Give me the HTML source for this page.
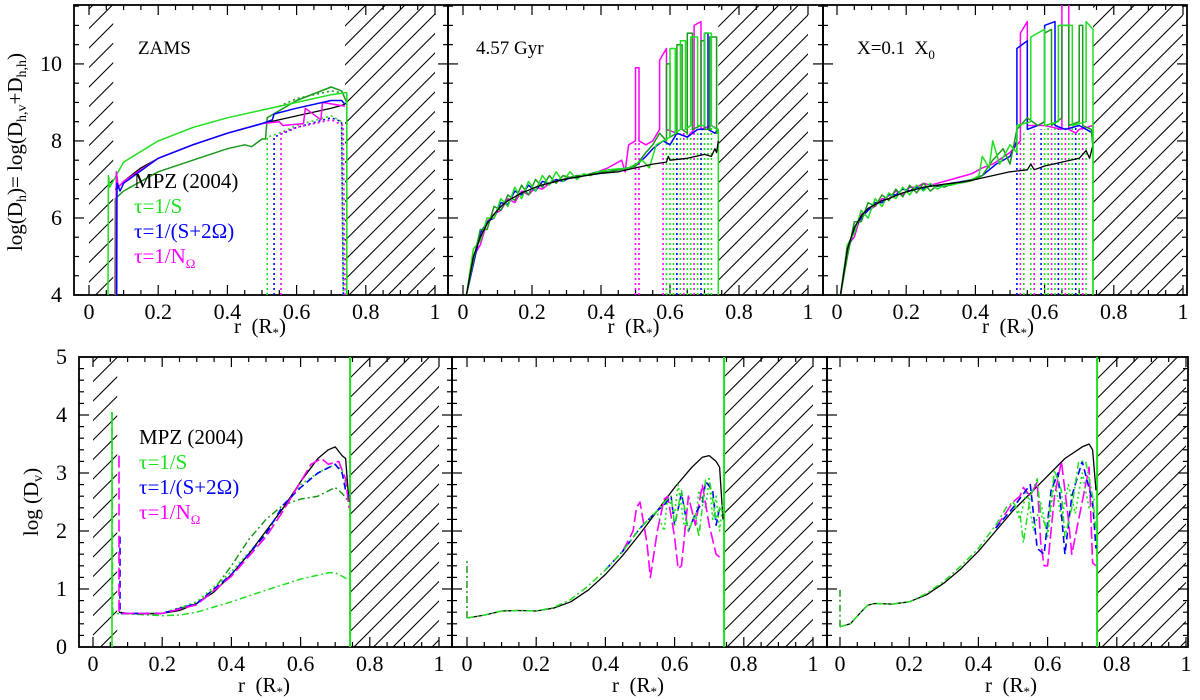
<!DOCTYPE html>
<html><head><meta charset="utf-8"><style>
html,body{margin:0;padding:0;background:#fff;}
svg{display:block;font-family:"Liberation Serif",serif;}
</style></head><body>
<svg id="fig" width="1200" height="700" viewBox="0 0 1200 700" xmlns="http://www.w3.org/2000/svg"></svg>
<script>
// ---------- DATA ----------
const noiseX = [0.01,0.03,0.05,0.07,0.09,0.11,0.13,0.15,0.17,0.19,0.21,0.23,0.25,0.27,0.29,0.31,0.33,0.35,0.37,0.39];
// Panel A (ZAMS, top)
const A_black_x=[0.075,0.08,0.1,0.15,0.2,0.3,0.4,0.5,0.55,0.6,0.7,0.74];
const A_black_y=[6.75,6.75,6.95,7.3,7.55,7.9,8.2,8.45,8.55,8.65,8.85,8.95];
const A_lgreen_x=[0.055,0.056,0.06,0.1,0.2,0.3,0.4,0.5,0.6,0.7,0.74,0.745,0.745];
const A_lgreen_y=[4,7.1,6.8,7.45,8.0,8.35,8.6,8.8,9.0,9.2,9.25,9.25,4];
const A_dgreen_x=[0.075,0.076,0.1,0.2,0.3,0.4,0.45,0.47,0.5,0.51,0.515,0.6,0.7,0.73,0.745,0.745];
const A_dgreen_y=[4,6.5,6.7,7.2,7.5,7.8,7.9,7.85,8.05,8.05,8.6,9.05,9.4,9.3,9.0,4];
const A_blue_x=[0.08,0.081,0.09,0.1,0.2,0.3,0.4,0.5,0.53,0.535,0.6,0.7,0.73,0.74];
const A_blue_y=[4,6.9,6.7,6.9,7.55,7.9,8.2,8.45,8.55,8.7,8.85,9.05,9.05,8.95];
const A_mag_x=[0.078,0.079,0.085,0.1,0.2,0.3,0.4,0.5,0.55,0.56,0.62,0.625,0.67,0.675,0.74];
const A_mag_y=[4,7.2,6.8,6.95,7.55,7.9,8.2,8.45,8.5,8.4,8.45,8.85,8.55,9.0,8.9];
const A_dotg_x=[0.515,0.515,0.55,0.6,0.7,0.73,0.735];
const A_dotg_y=[4,8.1,8.2,8.4,8.65,8.5,4];
const A_dotb_x=[0.535,0.535,0.6,0.7,0.73,0.735];
const A_dotb_y=[4,8.1,8.35,8.6,8.5,4];
const A_dotm_x=[0.555,0.555,0.6,0.7,0.735,0.74];
const A_dotm_y=[4,8.2,8.35,8.55,8.4,4];
const A_dotdg_x=[0.55,0.6,0.7,0.73];
const A_dotdg_y=[8.9,9.1,9.3,9.25];
// Panel B (4.57 Gyr, top)
const B_black_noise=[4.0,5.0,5.5,5.85,6.1,6.3,6.45,6.55,6.65,6.72,6.8,6.86,6.9,6.95,7.0,7.03,7.06,7.09,7.12,7.15];
const B_lgreen_noise=[4.0,5.2,5.4,6.0,6.0,6.5,6.3,6.8,6.5,6.95,6.7,7.1,6.85,7.2,6.95,7.2,7.0,7.15,7.1,7.2];
const B_dgreen_noise=[4.0,4.9,5.7,5.7,6.3,6.2,6.6,6.45,6.85,6.6,7.0,6.8,7.1,6.9,7.1,7.05,7.1,7.1,7.15,7.2];
const B_blue_noise=[4.0,4.8,5.6,5.9,6.0,6.4,6.35,6.7,6.6,6.85,6.7,6.95,6.9,7.0,6.95,7.05,7.05,7.1,7.12,7.15];
const B_mag_noise=[4.0,5.0,5.3,5.9,6.1,6.2,6.5,6.4,6.7,6.6,6.8,6.75,6.9,6.95,7.0,7.05,7.1,7.1,7.15,7.2];
const B_black_x=[0.45,0.5,0.55,0.59,0.595,0.6,0.65,0.7,0.72,0.73,0.735,0.74];
const B_black_y=[7.2,7.3,7.4,7.45,7.6,7.5,7.55,7.65,7.6,7.8,7.7,8.0];
const B_lgreen_x=[0.42,0.48,0.5,0.52,0.54,0.56,0.58,0.6,0.6,0.615,0.615,0.63,0.63,0.645,0.645,0.66,0.66,0.68,0.68,0.7,0.7,0.72,0.72,0.735,0.74,0.74];
const B_lgreen_y=[7.25,7.3,7.4,7.5,7.3,7.9,8.0,8.1,10.4,10.4,8.2,8.3,10.6,10.6,8.3,8.4,10.7,10.7,8.4,8.4,10.8,10.8,8.4,8.3,8.3,4];
const B_dgreen_x=[0.42,0.48,0.5,0.53,0.55,0.57,0.59,0.59,0.6,0.6,0.62,0.62,0.635,0.635,0.65,0.65,0.665,0.665,0.69,0.69,0.70,0.70,0.715,0.715,0.735,0.735,0.74];
const B_dgreen_y=[7.2,7.3,7.35,7.7,7.9,8.2,8.0,10.0,10.0,8.1,8.2,10.5,10.5,8.3,8.2,10.8,10.8,8.3,8.4,10.6,10.6,8.3,8.3,10.7,10.7,8.2,8.2];
const B_blue_x=[0.42,0.48,0.5,0.53,0.55,0.58,0.6,0.62,0.65,0.68,0.7,0.7,0.71,0.71,0.73,0.74];
const B_blue_y=[7.2,7.3,7.35,7.6,7.8,8.0,7.9,8.2,8.1,8.3,8.3,10.8,10.8,8.3,8.2,8.3];
const B_mag_x=[0.42,0.46,0.47,0.48,0.5,0.5,0.51,0.51,0.53,0.55,0.57,0.57,0.59,0.59,0.62,0.65,0.67,0.67,0.69,0.69,0.72,0.74];
const B_mag_y=[7.3,7.5,7.2,7.9,8.0,9.9,9.9,8.0,7.9,8.0,8.3,10.1,10.4,8.3,8.2,8.1,8.3,11.0,11.1,8.3,8.4,8.3];
const B_vdot_x=[0.50,0.51,0.58,0.59,0.60,0.61,0.62,0.63,0.64,0.65,0.66,0.67,0.68,0.69,0.70,0.71,0.72];
const B_vdot_top=[8.0,8.0,7.9,8.0,8.0,8.1,8.2,8.2,8.3,8.3,8.3,8.3,8.3,8.4,8.4,8.4,8.4];
const B_vdot_col=[3,3,3,1,1,1,2,1,3,1,1,3,1,2,1,1,1];
// Panel C (X=0.1 X0, top)
const C_black_noise=[4.0,5.2,5.75,6.05,6.25,6.35,6.45,6.5,6.58,6.65,6.7,6.75,6.8,6.82,6.85,6.88,6.9,6.92,6.95,6.98];
const C_lgreen_noise=[4.0,5.3,5.6,6.2,6.0,6.5,6.3,6.65,6.5,6.8,6.6,6.85,6.7,6.9,6.75,6.85,6.85,6.9,6.95,7.0];
const C_dgreen_noise=[4.0,5.0,5.9,5.9,6.4,6.3,6.6,6.45,6.75,6.55,6.85,6.65,6.9,6.7,6.85,6.8,6.88,6.9,6.93,6.97];
const C_blue_noise=[4.0,5.1,5.7,6.0,6.2,6.4,6.4,6.6,6.6,6.75,6.7,6.8,6.75,6.85,6.82,6.86,6.9,6.93,6.96,7.0];
const C_mag_noise=[4.0,5.3,5.5,6.1,6.2,6.3,6.5,6.5,6.7,6.6,6.8,6.8,6.9,6.85,6.9,6.95,7.0,7.05,7.1,7.15];
const C_black_x=[0.45,0.5,0.55,0.56,0.57,0.6,0.7,0.72,0.73,0.74];
const C_black_y=[7.1,7.2,7.25,7.4,7.25,7.35,7.55,7.75,7.55,7.9];
const C_lgreen_x=[0.41,0.42,0.44,0.45,0.47,0.5,0.52,0.52,0.56,0.56,0.6,0.6,0.64,0.64,0.68,0.68,0.72,0.72,0.74,0.74];
const C_lgreen_y=[7.1,7.6,7.3,8.0,7.4,7.9,7.7,8.4,8.5,10.7,10.9,8.4,8.5,11.0,11.0,8.4,8.5,11.1,10.9,4];
const C_dgreen_x=[0.42,0.45,0.48,0.5,0.52,0.55,0.58,0.6,0.6,0.62,0.62,0.65,0.65,0.67,0.67,0.7,0.7,0.71,0.71,0.735,0.74];
const C_dgreen_y=[7.1,7.5,7.8,7.4,8.3,8.6,8.4,8.5,10.8,10.9,8.4,8.6,11.0,11.0,8.4,8.5,11.0,11.0,8.4,8.3,7.8];
const C_blue_x=[0.42,0.46,0.5,0.52,0.52,0.55,0.55,0.58,0.6,0.6,0.63,0.63,0.66,0.7,0.74];
const C_blue_y=[7.1,7.4,7.6,8.0,10.4,10.6,8.3,8.4,8.5,11.0,11.1,8.4,8.3,8.4,8.2];
const C_mag_x=[0.42,0.45,0.5,0.53,0.53,0.55,0.55,0.6,0.65,0.65,0.67,0.67,0.69,0.7,0.74];
const C_mag_y=[7.3,7.4,7.7,8.0,10.8,11.1,8.4,8.4,8.3,11.6,11.6,8.3,8.2,8.3,8.4];
const C_vdot_x=[0.52,0.53,0.54,0.56,0.57,0.59,0.60,0.61,0.62,0.63,0.64,0.65,0.66,0.67,0.68,0.69,0.70,0.71,0.72];
const C_vdot_top=[8.0,8.1,8.2,8.2,8.3,8.3,8.3,8.4,8.3,8.4,8.4,8.3,8.4,8.4,8.4,8.4,8.3,8.3,8.3];
const C_vdot_col=[2,3,1,1,3,2,1,1,3,1,2,1,3,1,1,2,1,3,1];
// Panel D (ZAMS, bottom)
const D_black_x=[0.075,0.1,0.15,0.2,0.25,0.3,0.35,0.4,0.45,0.5,0.55,0.6,0.65,0.68,0.7,0.72,0.73,0.74];
const D_black_y=[0.6,0.58,0.57,0.58,0.63,0.75,0.95,1.25,1.6,2.0,2.4,2.85,3.25,3.4,3.45,3.3,3.25,2.5];
const D_lgreen_x=[0.055,0.057,0.06,0.1,0.2,0.25,0.3,0.4,0.5,0.6,0.68,0.7,0.72,0.74];
const D_lgreen_y=[4.05,0.6,0.58,0.57,0.54,0.55,0.6,0.78,0.98,1.17,1.28,1.28,1.22,1.15];
const D_dgreen_x=[0.08,0.2,0.3,0.35,0.4,0.45,0.5,0.55,0.6,0.65,0.7,0.72,0.74];
const D_dgreen_y=[0.58,0.58,0.75,1.0,1.4,1.85,2.2,2.45,2.55,2.6,2.75,2.65,2.5];
const D_dotg_x=[0.08,0.2,0.3,0.4,0.5,0.55,0.6,0.65,0.7,0.72,0.74];
const D_dotg_y=[0.58,0.58,0.78,1.3,1.95,2.4,2.8,3.0,3.15,3.05,2.6];
const D_blue_x=[0.078,0.078,0.08,0.2,0.3,0.4,0.5,0.55,0.6,0.65,0.7,0.72,0.73,0.74];
const D_blue_y=[1.9,0.6,0.58,0.58,0.75,1.25,1.95,2.45,2.75,3.0,3.15,3.0,2.7,2.6];
const D_mag_x=[0.075,0.075,0.08,0.2,0.3,0.4,0.5,0.55,0.6,0.63,0.66,0.68,0.71,0.73,0.74];
const D_mag_y=[3.3,0.6,0.58,0.58,0.73,1.22,1.9,2.35,2.85,3.15,3.25,3.15,3.2,2.9,2.4];
// Panel E (4.57 Gyr, bottom)
const E_black_x=[0,0.05,0.1,0.15,0.2,0.25,0.3,0.35,0.4,0.45,0.5,0.55,0.6,0.65,0.68,0.7,0.72,0.73,0.74];
const E_black_y=[0.5,0.55,0.62,0.63,0.62,0.67,0.78,0.98,1.25,1.58,1.95,2.35,2.75,3.1,3.27,3.3,3.2,3.1,2.2];
const E_lgreen_x=[0,0.05,0.1,0.15,0.2,0.25,0.3,0.35,0.4,0.45,0.5,0.55,0.57,0.59,0.6,0.62,0.64,0.66,0.67,0.69,0.7,0.72,0.73,0.74];
const E_lgreen_y=[0.5,0.55,0.62,0.63,0.62,0.68,0.82,1.05,1.33,1.65,2.05,2.35,2.5,2.6,2.1,2.7,2.0,2.3,1.9,2.9,2.9,2.2,2.4,2.3];
const E_blue_x=[0.4,0.45,0.5,0.55,0.57,0.59,0.6,0.62,0.64,0.66,0.68,0.69,0.71,0.72,0.73];
const E_blue_y=[1.33,1.65,2.05,2.35,2.45,2.6,2.1,2.65,2.0,2.3,2.5,2.85,2.7,2.1,2.4];
const E_dotg_x=[0.55,0.57,0.58,0.6,0.61,0.63,0.64,0.66,0.67,0.69,0.7,0.71,0.72,0.73,0.74];
const E_dotg_y=[2.3,2.0,2.6,2.3,2.8,2.0,2.6,2.1,2.7,2.4,2.9,2.2,2.6,2.0,2.5];
const E_mag_x=[0.45,0.48,0.49,0.5,0.52,0.53,0.55,0.57,0.58,0.6,0.61,0.62,0.64,0.66,0.68,0.7,0.72,0.73];
const E_mag_y=[1.65,2.0,2.4,2.5,1.8,1.2,2.0,2.55,2.6,1.9,1.35,1.4,2.6,2.1,2.8,2.1,1.6,1.55];
// Panel F (X=0.1 X0, bottom)
const F_black_x=[0,0.03,0.06,0.08,0.1,0.15,0.2,0.25,0.3,0.35,0.4,0.45,0.5,0.55,0.6,0.65,0.7,0.72,0.73,0.74];
const F_black_y=[0.35,0.4,0.6,0.72,0.75,0.74,0.78,0.9,1.1,1.35,1.65,2.0,2.35,2.65,2.95,3.25,3.45,3.5,3.4,2.7];
const F_lgreen_x=[0,0.03,0.06,0.08,0.1,0.15,0.2,0.25,0.3,0.35,0.4,0.45,0.48,0.5,0.52,0.53,0.55,0.57,0.58,0.6,0.62,0.64,0.65,0.67,0.69,0.71,0.73,0.74];
const F_lgreen_y=[0.35,0.4,0.6,0.72,0.75,0.74,0.78,0.92,1.13,1.4,1.7,2.1,2.4,2.5,2.3,1.8,2.6,2.9,2.3,2.0,3.05,2.7,1.9,2.4,3.2,3.2,2.6,2.0];
const F_blue_x=[0.45,0.5,0.55,0.57,0.59,0.61,0.63,0.65,0.67,0.7,0.73,0.74];
const F_blue_y=[2.05,2.4,2.8,1.7,1.6,2.7,3.0,1.6,2.6,3.2,2.5,1.7];
const F_mag_x=[0.45,0.5,0.52,0.53,0.55,0.57,0.58,0.59,0.6,0.62,0.64,0.66,0.67,0.69,0.72,0.73,0.74];
const F_mag_y=[2.05,2.5,2.6,2.75,2.6,2.85,1.8,1.4,1.4,2.6,3.2,2.2,1.6,2.2,3.1,1.45,1.4];
const F_dotg_x=[0.5,0.52,0.54,0.56,0.58,0.6,0.62,0.64,0.66,0.68,0.7,0.72,0.74];
const F_dotg_y=[2.5,2.2,2.7,2.0,2.5,1.9,2.9,2.2,2.8,2.3,3.0,2.4,2.6];
const xTickLabels=["0","0.2","0.4","0.6","0.8","1"];
const topYTicks=[4,6,8,10];
const botYTicks=[0,1,2,3,4,5];

// ---------- DRAWING ----------
const NS="http://www.w3.org/2000/svg";
const svg=document.getElementById('fig');
function mk(tag,attrs,parent){const e=document.createElementNS(NS,tag);for(const k in attrs)e.setAttribute(k,attrs[k]);(parent||svg).appendChild(e);return e;}
const C={k:'#000',lg:'#1ee01e',dg:'#1a9a1a',b:'#0000ff',m:'#ff00ff'};
const colIdx=[null,C.lg,C.b,C.m];

function panel(name,L,R,T,B,x0,x1,ymin,ymax,yMajor,yMinor,leftHatch,showY,titleOff){
  const p={L,R,T,B,
    sx:v=>x0+(x1-x0)*v,
    sy:v=>B-(B-T)*(v-ymin)/(ymax-ymin),ymin,ymax};
  const g=mk('g',{});
  
  
  p.g=g;
  const cid='clip-'+name;
  const cp=mk('clipPath',{id:cid},g);mk('rect',{x:L,y:T,width:R-L,height:B-T},cp);
  p.clip=cid;
  const hg=mk('g',{'clip-path':'url(#'+cid+')'},g);
  
  
  const zones=[[0.74,1]];if(leftHatch)zones.push([0,0.07]);
  zones.forEach((z,i)=>{
    const hc='hc-'+name+i;
    const c2=mk('clipPath',{id:hc},g);mk('rect',{x:p.sx(z[0]),y:T,width:p.sx(z[1])-p.sx(z[0]),height:B-T},c2);
    const hh=mk('g',{'clip-path':'url(#'+hc+')'},hg);
    for(let c=L-(B-T)-20;c<R+20;c+=19.5){mk('line',{x1:c,y1:B,x2:c+(B-T),y2:T,stroke:'#000','stroke-width':1.1},hh);}
  });
  const tk=mk('g',{stroke:'#000','stroke-width':1.2},g);
  for(let i=0;i<=20;i++){const v=i*0.05;const X=p.sx(v);const len=(i%4===0)?10:5;
    mk('line',{x1:X,y1:B,x2:X,y2:B-len},tk);mk('line',{x1:X,y1:T,x2:X,y2:T+len},tk);}
  for(let v=Math.ceil(ymin/yMinor)*yMinor;v<=ymax+1e-6;v+=yMinor){const Y=p.sy(v);const maj=Math.abs(v/yMajor-Math.round(v/yMajor))<1e-6;const len=maj?10:5;
    mk('line',{x1:L,y1:Y,x2:L+len,y2:Y},tk);mk('line',{x1:R,y1:Y,x2:R-len,y2:Y},tk);}
  mk('rect',{x:L,y:T,width:R-L,height:B-T,fill:'none',stroke:'#000','stroke-width':1.8},g);
  xTickLabels.forEach((t,i)=>{const tx=mk('text',{x:p.sx(i*0.2),y:B+24,'font-size':22,'text-anchor':'middle'},g);tx.textContent=t;
    
    });
  const xl=mk('text',{x:p.sx(0.5)-2,y:B+titleOff,'font-size':21,'text-anchor':'middle'},g);
  
  
  xl.innerHTML='r&#160;&#160;(R<tspan font-size="13" dy="4">*</tspan><tspan dy="-4">)</tspan>';
  if(showY){showY.forEach(v=>{const tx=mk('text',{x:L-12,y:p.sy(v)+7,'font-size':22,'text-anchor':'end'},g);tx.textContent=v;
    
    });}
  return p;
}
function line(p,xs,ys,color,dash,w,name){
  const d=xs.map((x,i)=>(i?'L':'M')+p.sx(x).toFixed(1)+' '+p.sy(ys[i]).toFixed(1)).join(' ');
  const e=mk('path',{d,fill:'none',stroke:color,'stroke-width':w||1.4,'stroke-linejoin':'round','clip-path':'url(#'+p.clip+')'},p.g);
  if(dash)e.setAttribute('stroke-dasharray',dash);
  
  
  return e;
}
function vdots(p,xs,tops,cols){xs.forEach((x,i)=>{line(p,[x,x],[p.ymin,tops[i]],colIdx[cols[i]],'2 3',1.6,'dotted-profile');});}
const DOT='2 3',DD='7 3 2 3',DASH='7 4',LDASH='12 4';

const pA=panel('panel-zams-dh',74,448,5,295,89,435,4,11.53,2,0.5,true,topYTicks,38);
const pB=panel('panel-457gyr-dh',448,823,5,295,463,808,4,11.53,2,0.5,false,null,38);
const pC=panel('panel-x01-dh',823,1187,5,295,837,1183,4,11.53,2,0.5,false,null,38);
const pD=panel('panel-zams-dv',79,452,357,647,93,439,0,5,1,0.2,true,botYTicks,45);
const pE=panel('panel-457gyr-dv',452,827,357,647,467,813,0,5,1,0.2,false,null,45);
const pF=panel('panel-x01-dv',827,1188,357,647,840,1186,0,5,1,0.2,false,null,45);

line(pA,A_dotg_x,A_dotg_y,C.lg,DOT,1.6,'tau-s-dotted');
line(pA,A_dotb_x,A_dotb_y,C.b,DOT,1.6,'tau-s2omega-dotted');
line(pA,A_dotm_x,A_dotm_y,C.m,DOT,1.6,'tau-nomega-dotted');
line(pA,A_dotdg_x,A_dotdg_y,C.dg,DOT,1.6,'tau-s-dark-dotted');
line(pA,A_dgreen_x,A_dgreen_y,C.dg,null,1.5,'tau-s-dark-line');
line(pA,A_lgreen_x,A_lgreen_y,C.lg,null,1.5,'tau-s-line');
line(pA,A_black_x,A_black_y,C.k,null,1.3,'mpz2004-line');
line(pA,A_mag_x,A_mag_y,C.m,null,1.5,'tau-nomega-line');
line(pA,A_blue_x,A_blue_y,C.b,null,1.5,'tau-s2omega-line');
function evolved(p,vx,vt,vc,blackN,black_x,black_y,lgN,lgx,lgy,dgN,dgx,dgy,bN,bx,by,mN,mx,my){
  vdots(p,vx,vt,vc);
  line(p,noiseX.concat(mx),mN.concat(my),C.m,null,1.5,'tau-nomega-line');
  line(p,noiseX.concat(bx),bN.concat(by),C.b,null,1.5,'tau-s2omega-line');
  line(p,noiseX.concat(dgx),dgN.concat(dgy),C.dg,null,1.5,'tau-s-dark-line');
  line(p,noiseX.concat(lgx),lgN.concat(lgy),C.lg,null,1.5,'tau-s-line');
  line(p,noiseX.concat(black_x),blackN.concat(black_y),C.k,null,1.3,'mpz2004-line');
}
evolved(pB,B_vdot_x,B_vdot_top,B_vdot_col,B_black_noise,B_black_x,B_black_y,B_lgreen_noise,B_lgreen_x,B_lgreen_y,B_dgreen_noise,B_dgreen_x,B_dgreen_y,B_blue_noise,B_blue_x,B_blue_y,B_mag_noise,B_mag_x,B_mag_y);
evolved(pC,C_vdot_x,C_vdot_top,C_vdot_col,C_black_noise,C_black_x,C_black_y,C_lgreen_noise,C_lgreen_x,C_lgreen_y,C_dgreen_noise,C_dgreen_x,C_dgreen_y,C_blue_noise,C_blue_x,C_blue_y,C_mag_noise,C_mag_x,C_mag_y);
line(pC,[0.74,0.74],[4,8.4],C.lg,null,1.5,'tau-s-edge');
line(pD,[0.055,0.055],[0,4.05],C.lg,null,1.6,'tau-s-inner-edge');
line(pD,[0.743,0.743],[0,5],C.lg,null,2,'tau-s-outer-edge');
line(pD,D_dgreen_x,D_dgreen_y,C.dg,DD,1.5,'tau-s-dark-line');
line(pD,D_dotg_x,D_dotg_y,C.lg,DOT,1.6,'tau-s-dotted');
line(pD,D_lgreen_x,D_lgreen_y,C.lg,DD,1.5,'tau-s-line');
line(pD,D_black_x,D_black_y,C.k,null,1.3,'mpz2004-line');
line(pD,D_blue_x,D_blue_y,C.b,DASH,1.6,'tau-s2omega-line');
line(pD,D_mag_x,D_mag_y,C.m,LDASH,1.6,'tau-nomega-line');
line(pE,[0,0],[0.5,1.5],C.dg,DD,1.5,'tau-s-inner-edge');
line(pE,[0.743,0.743],[0,5],C.lg,null,2,'tau-s-outer-edge');
line(pE,E_black_x,E_black_y,C.k,null,1.3,'mpz2004-line');
line(pE,E_dotg_x,E_dotg_y,C.lg,DOT,1.6,'tau-s-dotted');
line(pE,E_mag_x,E_mag_y,C.m,LDASH,1.6,'tau-nomega-line');
line(pE,E_blue_x,E_blue_y,C.b,DASH,1.6,'tau-s2omega-line');
line(pE,E_lgreen_x,E_lgreen_y,C.lg,DD,1.5,'tau-s-line');
line(pF,[0,0],[0.35,1.0],C.dg,DD,1.5,'tau-s-inner-edge');
line(pF,[0.743,0.743],[0,5],C.lg,null,2,'tau-s-outer-edge');
line(pF,F_black_x,F_black_y,C.k,null,1.3,'mpz2004-line');
line(pF,F_dotg_x,F_dotg_y,C.lg,DOT,1.6,'tau-s-dotted');
line(pF,F_mag_x,F_mag_y,C.m,LDASH,1.6,'tau-nomega-line');
line(pF,F_blue_x,F_blue_y,C.b,DASH,1.6,'tau-s2omega-line');
line(pF,F_lgreen_x,F_lgreen_y,C.lg,DD,1.5,'tau-s-line');

function txt(x,y,s,size,color,name,html){const t=mk('text',{x,y,'font-size':size,fill:color||'#000'});
  
  
  if(html)t.innerHTML=s;else t.textContent=s;return t;}
txt(138,54,'ZAMS',19,'#000','panel-label-zams');
txt(476,54,'4.57 Gyr',19,'#000','panel-label-457gyr');
txt(857,54,'X=0.1&#160;&#160;X<tspan font-size="13" dy="5">0</tspan>',19,'#000','panel-label-x01',true);
function legend(x,y,name){
  txt(x,y,'MPZ (2004)',21,'#000',name+'-mpz');
  txt(x,y+25,'τ=1/S',21,C.lg,name+'-tau-s');
  txt(x,y+50,'τ=1/(S+2Ω)',21,C.b,name+'-tau-s2omega');
  txt(x,y+75,'τ=1/N<tspan font-size="13" dy="5">Ω</tspan>',21,C.m,name+'-tau-nomega',true);
}
legend(134,188,'legend-top');
legend(139,444,'legend-bottom');
const yt=mk('text',{x:0,y:0,'font-size':21,'text-anchor':'middle',transform:'translate(22,152) rotate(-90)'});


yt.innerHTML='log(D<tspan font-size="14" dy="4">h</tspan><tspan dy="-4">)= log(D</tspan><tspan font-size="14" dy="4">h,v</tspan><tspan dy="-4">+D</tspan><tspan font-size="14" dy="4">h,h</tspan><tspan dy="-4">)</tspan>';
const yb=mk('text',{x:0,y:0,'font-size':21,'text-anchor':'middle',transform:'translate(38,502) rotate(-90)'});


yb.innerHTML='log (D<tspan font-size="14" dy="4">v</tspan><tspan dy="-4">)</tspan>';
</script>
</body></html>
